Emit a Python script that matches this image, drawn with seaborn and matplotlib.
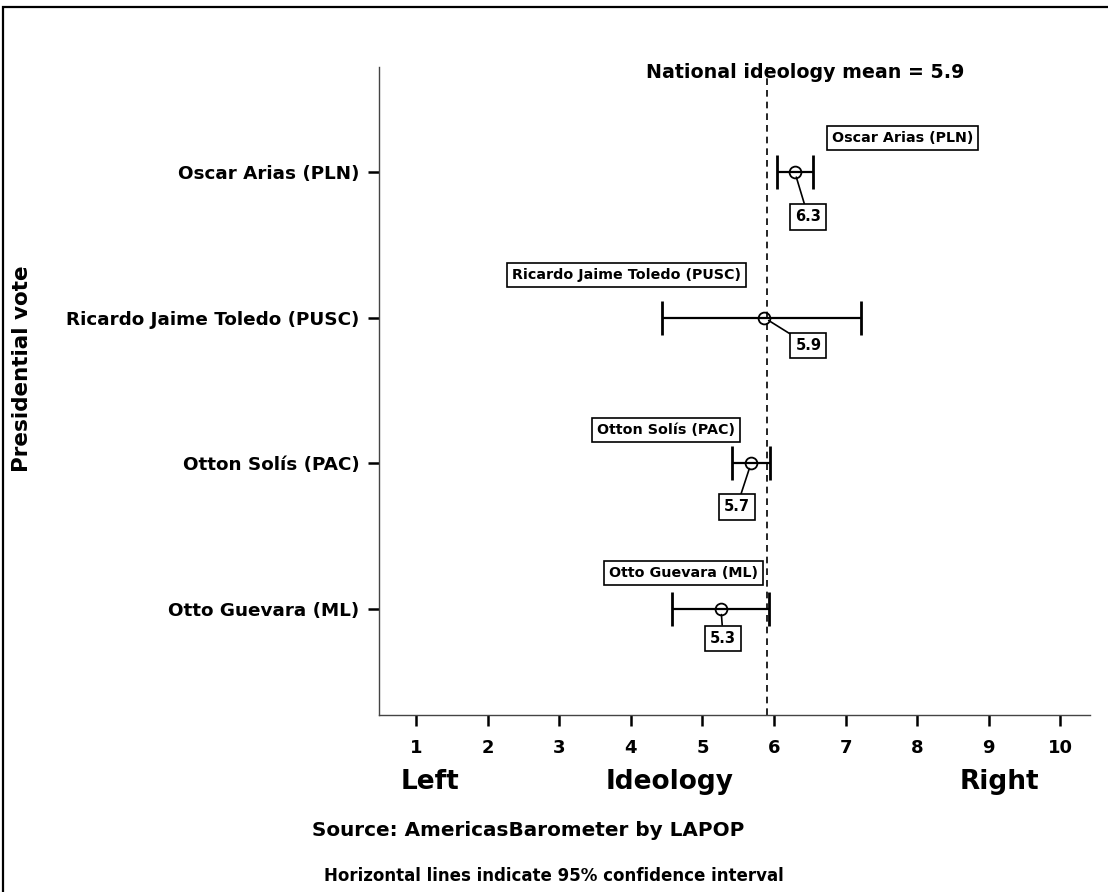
import numpy as np
import pandas as pd
import seaborn as sns
import matplotlib.pyplot as plt
from matplotlib.patches import Rectangle

candidates = ["Oscar Arias (PLN)", "Ricardo Jaime Toledo (PUSC)",
              "Otton Solís (PAC)", "Otto Guevara (ML)"]
means = [6.29, 5.86, 5.68, 5.26]
lower = [6.04, 4.43, 5.42, 4.58]
upper = [6.54, 7.22, 5.95, 5.93]
value_labels = ["6.3", "5.9", "5.7", "5.3"]
national_mean = 5.9
xticks = list(range(1, 11))

df = pd.DataFrame({"candidate": candidates, "mean": means,
                   "lo": lower, "hi": upper, "label": value_labels})

sns.set_style("ticks")
plt.rcParams['font.family'] = ['DejaVu Sans']
plt.rcParams['text.color'] = 'black'
plt.rcParams['xtick.color'] = 'black'
plt.rcParams['ytick.color'] = 'black'

fig = plt.figure(figsize=(11.08, 8.92), dpi=100)
ax = fig.add_axes([0.342, 0.198, 0.642, 0.727])

ypos = np.arange(len(df))
ax.errorbar(df["mean"], ypos, xerr=[df["mean"] - df["lo"], df["hi"] - df["mean"]],
            fmt='none', ecolor='black', elinewidth=1.6, capsize=12.5, capthick=2.0, zorder=2)
sns.pointplot(data=df, x="mean", y="candidate", order=candidates, errorbar=None,
              linestyle='none', marker='o', color='black', markersize=8.5,
              markerfacecolor='none', markeredgewidth=1.3, ax=ax, zorder=3)

ax.axvline(national_mean, color='black', linestyle=(0, (4, 3)), linewidth=1.2, zorder=1)

# name labels and value labels (positions in data units)
name_pos = [(7.80, -0.23), (3.94, 0.71), (4.49, 1.77), (4.74, 2.75)]
val_pos = [(6.48, 0.31), (6.48, 1.19), (5.48, 2.30), (5.29, 3.20)]
for i, row in df.iterrows():
    nx, ny = name_pos[i]
    ax.text(nx, ny, row["candidate"], ha='center', va='center', fontsize=10.3,
            fontweight='bold', zorder=5,
            bbox=dict(boxstyle='square,pad=0.35', fc='white', ec='black', lw=1.2))
    vx, vy = val_pos[i]
    ax.annotate(row["label"], xy=(row["mean"], i), xytext=(vx, vy),
                ha='center', va='center', fontsize=10.5, fontweight='bold', zorder=5,
                bbox=dict(boxstyle='square,pad=0.35', fc='white', ec='black', lw=1.2),
                arrowprops=dict(arrowstyle='-', color='black', lw=1.2,
                                shrinkA=0, shrinkB=4))

ax.set_xlim(0.48, 10.42)
ax.set_ylim(3.73, -0.72)
ax.set_xticks(xticks)
ax.set_xticklabels([str(t) for t in xticks], fontsize=13, fontweight='bold')
ax.set_yticks(ypos)
ax.set_yticklabels(candidates, fontsize=13.2, fontweight='bold')
ax.tick_params(axis='both', length=8, width=1.8, color='black', pad=6)
ax.tick_params(axis='x', pad=9)
ax.set_xlabel("")
ax.set_ylabel("")
sns.despine(ax=ax)
for s in ['left', 'bottom']:
    ax.spines[s].set_linewidth(1.0)
    ax.spines[s].set_color('#444444')

ax.text(6.44, -0.68, "National ideology mean = 5.9", ha='center', va='center',
        fontsize=13.7, fontweight='bold', zorder=6)

fig.text(0.020, 0.587, "Presidential vote", rotation=90, ha='center', va='center',
         fontsize=15.5, fontweight='bold')
fig.text(0.388, 0.123, "Left", ha='center', va='center', fontsize=19, fontweight='bold')
fig.text(0.604, 0.123, "Ideology", ha='center', va='center', fontsize=19, fontweight='bold')
fig.text(0.902, 0.123, "Right", ha='center', va='center', fontsize=19, fontweight='bold')
fig.text(0.477, 0.0695, "Source: AmericasBarometer by LAPOP", ha='center', va='center',
         fontsize=14.4, fontweight='bold')
fig.text(0.500, 0.018, "Horizontal lines indicate 95% confidence interval",
         ha='center', va='center', fontsize=12, fontweight='bold')

fig.patches.append(Rectangle((0.003, -0.05), 1.2, 1.042, transform=fig.transFigure,
                             fill=False, ec='black', lw=1.6))

fig.savefig("out.png", dpi=100)
